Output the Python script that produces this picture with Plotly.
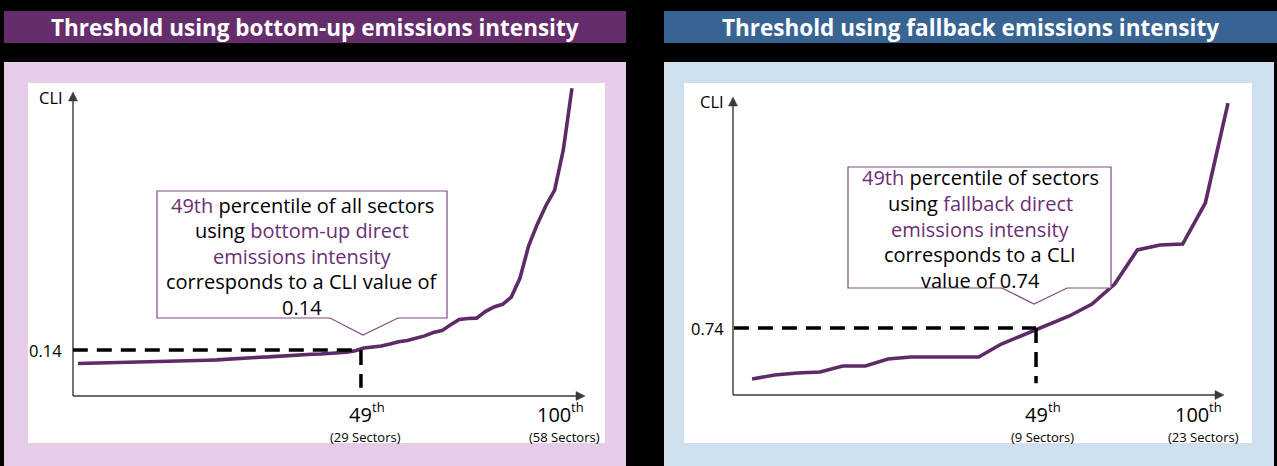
import plotly.graph_objects as go

W, H = 1277, 466
FONT = "Open Sans"

# ---- data -------------------------------------------------------------
# Bottom-up emissions intensity: CLI of each of the 58 sectors, sorted
bu_rank = list(range(1, 59))
bu_cli = [0.099, 0.0995, 0.100, 0.101, 0.101, 0.102, 0.103, 0.103, 0.104, 0.104,
          0.105, 0.106, 0.106, 0.107, 0.107, 0.109, 0.110, 0.112, 0.113, 0.115,
          0.116, 0.118, 0.119, 0.121, 0.122, 0.124, 0.125, 0.127, 0.128, 0.130,
          0.131, 0.133, 0.138, 0.146, 0.149, 0.152, 0.158, 0.165, 0.169, 0.175,
          0.183, 0.193, 0.199, 0.217, 0.233, 0.236, 0.237, 0.257, 0.271, 0.279,
          0.301, 0.359, 0.457, 0.523, 0.580, 0.627, 0.749, 0.937]
bu_threshold_rank = 33.65
bu_threshold_cli = 0.14

# Fallback emissions intensity: CLI of each sector, sorted
fb_rank = list(range(1, 23))
fb_cli = [0.177, 0.221, 0.243, 0.254, 0.320, 0.320, 0.398, 0.420, 0.420, 0.420, 0.420,
          0.563, 0.663, 0.773, 0.873, 1.005, 1.226, 1.602, 1.657, 1.668, 2.121, 3.225]
fb_threshold_rank = 13.53
fb_threshold_cli = 0.74

titles = ["Threshold using bottom-up emissions intensity",
          "Threshold using fallback emissions intensity"]
pct_numbers = ["49", "100"]
pct_suffix = "th"
bu_sector_labels = ["(29 Sectors)", "(58 Sectors)"]
fb_sector_labels = ["(9 Sectors)", "(23 Sectors)"]

HL = "#6B2F74"   # highlight purple for callout text
bu_callout = [f'<span style="color:{HL}">49th</span> percentile of all sectors',
              f'using <span style="color:{HL}">bottom-up direct</span>',
              f'<span style="color:{HL}">emissions intensity</span>',
              'corresponds to a CLI value of',
              '0.14']
fb_callout = [f'<span style="color:{HL}">49th</span> percentile of sectors',
              f'using <span style="color:{HL}">fallback direct</span>',
              f'<span style="color:{HL}">emissions intensity</span>',
              'corresponds to a CLI',
              'value of 0.74']

# ---- helpers (pixel -> paper) ------------------------------------------
def px(x):
    return x / W

def py(y):
    return 1 - y / H

def rect(x0, y0, x1, y1, color):
    return dict(type="rect", xref="paper", yref="paper", layer="below",
                x0=px(x0), x1=px(x1), y0=py(y1), y1=py(y0),
                fillcolor=color, line=dict(width=0))

def poly(pts, fill, line_color, line_width, layer="above"):
    d = "M " + " L ".join(f"{px(a):.5f},{py(b):.5f}" for a, b in pts) + " Z"
    return dict(type="path", xref="paper", yref="paper", path=d, layer=layer,
                fillcolor=fill, line=dict(color=line_color, width=line_width))

def seg(x0, y0, x1, y1, color, width):
    return dict(type="line", xref="paper", yref="paper", layer="above",
                x0=px(x0), x1=px(x1), y0=py(y0), y1=py(y1),
                line=dict(color=color, width=width))

fig = go.Figure()

LINE = "#5E2A67"
fig.add_trace(go.Scatter(x=bu_rank, y=bu_cli, mode="lines", xaxis="x", yaxis="y",
                         line=dict(color=LINE, width=3.6), hoverinfo="skip"))
fig.add_trace(go.Scatter(x=fb_rank, y=fb_cli, mode="lines", xaxis="x2", yaxis="y2",
                         line=dict(color=LINE, width=3.6), hoverinfo="skip"))

hidden = dict(showgrid=False, zeroline=False, showline=False, showticklabels=False,
              ticks="", fixedrange=True)

shapes = [
    # header bars
    rect(4, 11, 626, 43, "#652D6C"),
    rect(664, 11, 1277, 43, "#386494"),
    # panel backgrounds
    rect(4, 62, 626, 466, "#E6CDE7"),
    rect(664, 62, 1274, 466, "#CFDFEE"),
    # white plot cards
    rect(28, 83, 605, 443, "white"),
    rect(684, 83, 1252, 443, "white"),
]

# axes drawn as arrows: (origin x, origin y, y-arrow tip y, x-arrow tip x)
AX = "#3A3A3A"
for ox, oy, ty, tx in [(73, 396, 92, 585), (733, 395, 97, 1224)]:
    shapes.append(seg(ox, oy, ox, ty + 8, AX, 1.4))
    shapes.append(seg(ox, oy, tx - 8, oy, AX, 1.4))
    shapes.append(poly([(ox, ty), (ox - 4.5, ty + 9), (ox + 4.5, ty + 9)], AX, AX, 0.5))
    shapes.append(poly([(tx, oy), (tx - 9, oy - 4.5), (tx - 9, oy + 4.5)], AX, AX, 0.5))

DASH = dict(color="black", width=3.5, dash="15px,9px")
shapes += [
    dict(type="line", xref="x", yref="y", x0=0.4, x1=bu_threshold_rank,
         y0=bu_threshold_cli, y1=bu_threshold_cli, line=DASH, layer="above"),
    dict(type="line", xref="x", yref="y", x0=bu_threshold_rank, x1=bu_threshold_rank,
         y0=bu_threshold_cli, y1=0.025, line=DASH, layer="above"),
    dict(type="line", xref="x2", yref="y2", x0=0.2, x1=fb_threshold_rank,
         y0=fb_threshold_cli, y1=fb_threshold_cli, line=DASH, layer="above"),
    dict(type="line", xref="x2", yref="y2", x0=fb_threshold_rank, x1=fb_threshold_rank,
         y0=fb_threshold_cli, y1=0.13, line=DASH, layer="above"),
]

# callout boxes with a pointer towards the threshold point
shapes.append(poly([(157, 191), (447, 191), (447, 318), (398, 318),
                    (363, 335), (330, 318), (157, 318)], "white", "#7B4C82", 1.2))
shapes.append(poly([(848, 167), (1111, 167), (1111, 288), (1067, 288),
                    (1034, 304), (1002, 288), (848, 288)], "white", "#7B4C82", 1.2))

ann = []

# header titles
for t, cx in zip(titles, [315, 970]):
    ann.append(dict(xref="paper", yref="paper", x=px(cx), y=py(27.5), text=f"<b>{t}</b>",
                    showarrow=False, xanchor="center", yanchor="middle",
                    font=dict(family=FONT, size=22.5, color="white")))

# CLI axis titles
for cx, cy in [(51, 97), (712, 102)]:
    ann.append(dict(xref="paper", yref="paper", x=px(cx), y=py(cy), text="CLI",
                    showarrow=False, xanchor="center", yanchor="middle",
                    font=dict(family=FONT, size=16.5, color="black")))

# threshold value labels on the CLI axis
ann.append(dict(xref="paper", yref="y", x=px(64), y=bu_threshold_cli,
                text=f"{bu_threshold_cli:.2f}", showarrow=False, xanchor="right",
                yanchor="middle", font=dict(family=FONT, size=16.5, color="black")))
ann.append(dict(xref="paper", yref="y2", x=px(726), y=fb_threshold_cli,
                text=f"{fb_threshold_cli:.2f}", showarrow=False, xanchor="right",
                yanchor="middle", font=dict(family=FONT, size=16.5, color="black")))

# percentile tick labels: number, raised ordinal suffix, sector count below
TIGHT = dict(borderpad=0, borderwidth=0, showarrow=False)

def tick(xref, xval, split_shift, number, sectors):
    ann.append(dict(xref=xref, yref="paper", x=xval, y=py(414), xshift=split_shift,
                    text=number, xanchor="right", yanchor="middle",
                    font=dict(family=FONT, size=20, color="black"), **TIGHT))
    ann.append(dict(xref=xref, yref="paper", x=xval, y=py(406.5), xshift=split_shift,
                    text=pct_suffix, xanchor="left", yanchor="middle",
                    font=dict(family=FONT, size=13, color="black"), **TIGHT))
    ann.append(dict(xref=xref, yref="paper", x=xval, y=py(437),
                    xshift=split_shift - 6, text=sectors,
                    xanchor="center", yanchor="middle",
                    font=dict(family=FONT, size=13, color="black"), **TIGHT))

tick("x", bu_threshold_rank, 11, pct_numbers[0], bu_sector_labels[0])
tick("x", bu_rank[-1], -1, pct_numbers[1], bu_sector_labels[1])
tick("x2", fb_threshold_rank, 12, pct_numbers[0], fb_sector_labels[0])
tick("x2", fb_rank[-1], -19, pct_numbers[1], fb_sector_labels[1])

# callout text
for lines, cx, y0 in [(bu_callout, 302, 205), (fb_callout, 980, 178)]:
    for i, s in enumerate(lines):
        ann.append(dict(xref="paper", yref="paper", x=px(cx), y=py(y0 + i * 25.5),
                        text=s, showarrow=False, xanchor="center", yanchor="middle",
                        font=dict(family=FONT, size=20, color="black")))

fig.update_layout(
    width=W, height=H, margin=dict(l=0, r=0, t=0, b=0),
    paper_bgcolor="black", plot_bgcolor="rgba(0,0,0,0)", showlegend=False,
    xaxis=dict(domain=[px(72.8), px(589.3)], range=[0.4, 60], anchor="y", **hidden),
    yaxis=dict(domain=[py(396), py(83.9)], range=[0, 0.95], anchor="x", **hidden),
    xaxis2=dict(domain=[px(733.9), px(1241.6)], range=[0.2, 22.6], anchor="y2", **hidden),
    yaxis2=dict(domain=[py(395), py(87.2)], range=[0, 3.4], anchor="x2", **hidden),
    shapes=shapes, annotations=ann,
)

fig.write_html("out.html")
